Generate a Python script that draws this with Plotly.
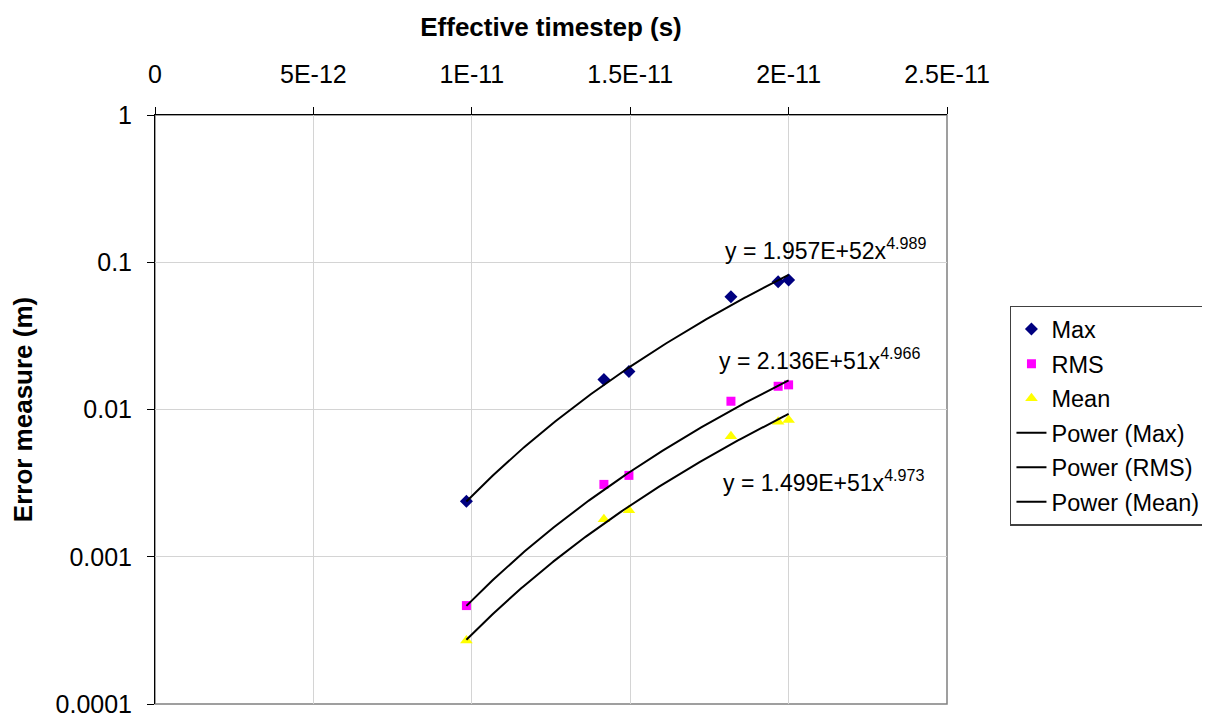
import numpy as np
import plotly.graph_objects as go

# ---- data ----
timestep = [0.983e-11, 1.417e-11, 1.496e-11, 1.818e-11, 1.967e-11, 2.0e-11]
err_max = [0.00238, 0.0160, 0.0181, 0.0582, 0.0736, 0.0759]
err_rms = [0.000466, 0.00310, 0.00357, 0.01138, 0.01438, 0.0147]
err_mean = [0.000270, 0.00180, 0.00207, 0.00659, 0.00826, 0.00847]

# power trendline coefficients shown on the chart (y = a * x^b)
fit_names = ["Power (Max)", "Power (RMS)", "Power (Mean)"]
fit_a = [1.957e52, 2.136e51, 1.499e51]
fit_b = [4.989, 4.966, 4.973]
fit_labels = ["y = 1.957E+52x<sup>4.989</sup>",
              "y = 2.136E+51x<sup>4.966</sup>",
              "y = 1.499E+51x<sup>4.973</sup>"]

x_ticks = [0, 5e-12, 1e-11, 1.5e-11, 2e-11, 2.5e-11]
x_ticktext = ["0", "5E-12", "1E-11", "1.5E-11", "2E-11", "2.5E-11"]
y_ticks = [1e-4, 1e-3, 1e-2, 1e-1, 1]
y_ticktext = ["0.0001", "0.001", "0.01", "0.1", "1"]

FONT = "Liberation Sans, Arial, sans-serif"

fig = go.Figure()

series = [
    ("Max", err_max, dict(symbol="diamond", color="#000080", size=10)),
    ("RMS", err_rms, dict(symbol="square", color="#FF00FF", size=9)),
    ("Mean", err_mean, dict(symbol="triangle-up", color="#FFFF00", size=11)),
]
for i, (name, vals, mk) in enumerate(series):
    fig.add_trace(go.Scatter(
        x=timestep, y=vals, mode="markers", name=name,
        marker=dict(symbol=mk["symbol"], color=mk["color"], size=mk["size"],
                    line=dict(width=0)),
        legendgroup=f"g{i}", legendrank=i + 1,
    ))

xs = np.linspace(min(timestep), max(timestep), 200)
for i, (nm, a, b) in enumerate(zip(fit_names, fit_a, fit_b)):
    ys = a * xs ** b
    fig.add_trace(go.Scatter(
        x=xs, y=ys, mode="lines", name=nm,
        line=dict(color="black", width=2),
        legendgroup=f"g{i+3}", legendrank=i + 4,
    ))

# equation labels (x in data units, y as log10 value)
label_pos = [(1.793e-11, -0.91), (1.775e-11, -1.66), (1.787e-11, -2.485)]
for (lx, ly), txt in zip(label_pos, fit_labels):
    fig.add_annotation(x=lx, y=ly, xref="x", yref="y", text=txt,
                       showarrow=False, xanchor="left", yanchor="middle",
                       font=dict(family=FONT, size=23, color="black"))

# grey plot-area border (right and bottom)
fig.add_shape(type="rect", xref="paper", yref="paper", x0=0, y0=0, x1=1, y1=1,
              line=dict(color="#808080", width=1.5), layer="below")

# page body has an 8px margin, so the figure is laid out 8px smaller
fig.update_layout(
    width=1202, height=712,
    margin=dict(l=147, r=263, t=107, b=16, autoexpand=False),
    paper_bgcolor="white", plot_bgcolor="white",
    font=dict(family=FONT, size=24, color="black"),
    showlegend=True,
    legend=dict(x=1.0795, y=0.676, xanchor="left", yanchor="top",
                bordercolor="#404040", borderwidth=1.5,
                font=dict(family=FONT, size=23.5, color="black"),
                tracegroupgap=1, bgcolor="white"),
    xaxis=dict(
        side="top", range=[0, 2.5e-11], tickvals=x_ticks, ticktext=x_ticktext,
        showgrid=True, gridcolor="#d4d4d4", gridwidth=1,
        showline=True, linecolor="black", linewidth=1,
        ticks="outside", ticklen=7, tickcolor="black", tickwidth=1,
        zeroline=False, ticklabelstandoff=14, automargin=False,
        tickfont=dict(family=FONT, size=25),
        title=dict(text="<b>Effective timestep (s)</b>",
                   font=dict(family=FONT, size=26), standoff=15),
    ),
    yaxis=dict(
        type="log", range=[-4, 0], tickvals=y_ticks, ticktext=y_ticktext,
        showgrid=True, gridcolor="#d4d4d4", gridwidth=1,
        showline=True, linecolor="black", linewidth=1,
        ticks="outside", ticklen=7, tickcolor="black", tickwidth=1,
        zeroline=False, ticklabelstandoff=10, automargin=False,
        tickfont=dict(family=FONT, size=25),
        title=dict(text="<b>Error measure (m)</b>",
                   font=dict(family=FONT, size=26), standoff=15),
    ),
)

fig.write_html("out.html")
